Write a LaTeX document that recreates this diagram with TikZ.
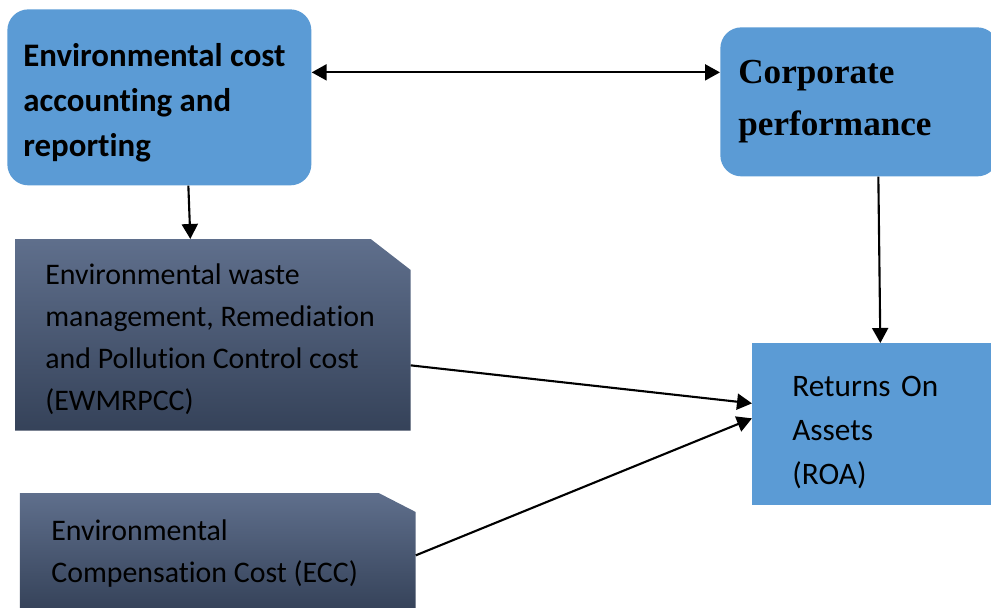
\documentclass[tikz,border=0pt]{standalone}
\usepackage{fontspec}
\setmainfont{Carlito}[Ligatures=CommonOff]
\newfontfamily\timesfont{Liberation Serif}
\usetikzlibrary{arrows.meta,backgrounds}
\definecolor{boxblue}{HTML}{5B9BD5}
\definecolor{slatetop}{HTML}{5F6F8C}
\definecolor{slatebottom}{HTML}{354259}
\tikzset{
  bluebox/.style={fill=boxblue, draw=none, anchor=north west, align=left,
                  inner ysep=0pt},
  roundbox/.style={bluebox, rounded corners=0.42cm},
  slatebox/.style={draw=none, anchor=north west, align=left, inner ysep=0pt},
  slatefill/.style={top color=slatetop, bottom color=slatebottom, draw=none},
  link/.style={-{Triangle[length=3mm,width=3.2mm]}, line width=1.2pt},
  twolink/.style={{Triangle[length=3mm,width=3.2mm]}-{Triangle[length=3mm,width=3.2mm]},
                  line width=1.2pt},
}
\newcommand{\toppad}[1]{\rule{0pt}{#1}}
\newcommand{\natspace}{\spaceskip=0pt\relax}
\begin{document}
\begin{tikzpicture}
    \useasboundingbox (0,0) rectangle (19.82,-12.14);
    \clip (0,0) rectangle (19.82,-12.14);
    \node[roundbox, minimum width=6.08cm, minimum height=3.52cm,
          inner xsep=0.32cm, text width=5.44cm,
          font=\bfseries\fontsize{18.7}{25.5}\selectfont] (ecar) at (0.14,-0.18)
          {\natspace\toppad{19pt}Environmental cost\\accounting and\\reporting};
    \node[roundbox, minimum width=5.56cm, minimum height=2.98cm,
          inner xsep=0.36cm, text width=4.84cm,
          font=\timesfont\bfseries\fontsize{20}{29.5}\selectfont] (corp) at (14.4,-0.54)
          {Corporate\\performance};
    \node[slatebox, minimum width=7.9cm, minimum height=3.82cm,
          inner xsep=0.6cm, text width=6.7cm,
          font=\fontsize{17}{24}\selectfont] (ewm) at (0.3,-4.78)
          {\natspace\toppad{17pt}Environmental waste\\management, Remediation\\and Pollution Control cost\\(EWMRPCC)};
    \node[slatebox, minimum width=7.9cm, minimum height=2.34cm,
          inner xsep=0.62cm, text width=6.66cm,
          font=\fontsize{17}{24}\selectfont] (ecc) at (0.4,-9.86)
          {\natspace\toppad{14pt}Environmental\\Compensation Cost (ECC)};
    \node[bluebox, minimum width=4.86cm, minimum height=3.24cm,
          inner xsep=0.8cm, text width=3.26cm,
          font=\fontsize{17.8}{25}\selectfont] (roa) at (15.04,-6.86)
          {\toppad{21pt}Returns On\\Assets\\(ROA)};
    % cut-corner panels behind the text
    \begin{scope}[on background layer]
      \shade[slatefill] (ewm.south west) |- ([xshift=-8mm]ewm.north east)
          -- ([yshift=-6.2mm]ewm.north east) -- (ewm.south east) -- cycle;
      \shade[slatefill] (ecc.south west) |- ([xshift=-7.4mm]ecc.north east)
          -- ([yshift=-3.8mm]ecc.north east) -- (ecc.south east) -- cycle;
    \end{scope}
    % links
    \draw[twolink] ([yshift=5mm]ecar.east) -- ([yshift=5mm]ecar.east -| corp.west);
    \draw[link] ([xshift=5.8mm]ecar.south) -- ([xshift=-4.5mm]ewm.north);
    \draw[link] ([xshift=3.8mm]corp.south) -- ([xshift=1.3mm]roa.north);
    \draw[link] ([yshift=-6.1mm]ewm.east) -- ([yshift=4.2mm]roa.west);
    \draw[link] ([yshift=-0.7mm]ecc.east) -- ([yshift=1.2mm]roa.west);
  \end{tikzpicture}
\end{document}
